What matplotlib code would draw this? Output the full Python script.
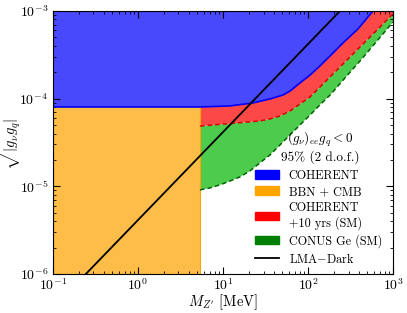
import numpy as np
import matplotlib
matplotlib.use("Agg")
import matplotlib.pyplot as plt
from matplotlib.patches import Patch
from matplotlib.lines import Line2D

plt.rcParams['font.family'] = 'serif'
plt.rcParams['font.serif'] = ['cmr10']
plt.rcParams['mathtext.fontset'] = 'cm'
plt.rcParams['axes.formatter.use_mathtext'] = True

# COHERENT bound (upper curve)
m_coh = [0.1, 5.36, 12.1, 22.5, 35.7, 50.8, 61.4, 80.5, 106, 138, 182, 258, 387, 582]
g_coh = [8.04e-5, 8.04e-5, 8.26e-5, 8.93e-5, 9.92e-5, 1.10e-4, 1.22e-4, 1.51e-4,
         1.86e-4, 2.36e-4, 3.07e-4, 4.32e-4, 6.23e-4, 1e-3]

# COHERENT +10 yrs (SM) sensitivity
m_fut = [5.36, 14.6, 27.2, 35.7, 46.8, 61.4, 80.5, 106, 150, 238, 377, 614, 1000]
g_fut = [4.88e-5, 5.28e-5, 5.57e-5, 5.87e-5, 6.35e-5, 7.24e-5, 8.70e-5, 1.05e-4,
         1.47e-4, 2.30e-4, 3.59e-4, 5.76e-4, 9.3e-4]

# CONUS Ge (SM) sensitivity
m_conus = [5.36, 7.03, 9.22, 12.1, 15.8, 20.8, 27.2, 35.7, 46.8, 61.4, 80.5, 106,
           138, 182, 272, 409, 648, 1000]
g_conus = [9.10e-6, 9.59e-6, 1.04e-5, 1.15e-5, 1.28e-5, 1.50e-5, 1.85e-5, 2.28e-5,
           2.96e-5, 3.86e-5, 5.01e-5, 6.52e-5, 8.48e-5, 1.10e-4, 1.72e-4, 2.69e-4,
           4.55e-4, 7.49e-4]

# BBN + CMB
m_bbn = 5.36

# LMA-Dark line
m_lma = [0.244, 238]
g_lma = [1e-6, 1e-3]

xmin, xmax = 0.1, 1000
ymin, ymax = 1e-6, 1e-3

fig = plt.figure(figsize=(4.07, 3.13), dpi=100)
ax = fig.add_axes([0.130, 0.1246, 0.8356, 0.8403])

c_blue, c_red, c_org, c_grn = '#4848fd', '#fd4848', '#fdbd48', '#4ccb4c'

# blue: above COHERENT curve
ax.fill(m_coh + [xmax, xmax, xmin], g_coh + [ymax, ymax * 2, ymax * 2],
        color=c_blue, lw=0)
# green: between CONUS and future COHERENT
ax.fill(m_conus + m_fut[::-1], g_conus + g_fut[::-1], color=c_grn, lw=0)
# red: between future COHERENT and current COHERENT
mc = [m for m in m_coh if m >= m_bbn]
gc = [g for m, g in zip(m_coh, g_coh) if m >= m_bbn]
ax.fill(m_fut + [xmax] + mc[::-1], g_fut + [ymax * 2] + gc[::-1],
        color=c_red, lw=0)
# orange: BBN + CMB
g_top = g_coh[0]
ax.fill([xmin, m_bbn, m_bbn, xmin], [ymin, ymin, g_top, g_top],
        facecolor=c_org, edgecolor='#ffa500', lw=0.8)

ax.plot(m_coh, g_coh, color='blue', lw=1.2)
ax.plot(m_fut, g_fut, color='#e00000', lw=1.1, ls='--', dashes=(3, 2))
ax.plot(m_conus, g_conus, color='#006400', lw=1.1, ls='--', dashes=(3, 2))
ax.plot(m_lma, g_lma, color='black', lw=1.3)

ax.set_xscale('log')
ax.set_yscale('log')
ax.set_xlim(xmin, xmax)
ax.set_ylim(ymin, ymax)
ax.tick_params(which='both', direction='in', top=True, right=True, labelsize=10)
ax.tick_params(axis='x', which='major', pad=2)
ax.tick_params(which='major', length=5)
ax.tick_params(which='minor', length=2.5)
ax.set_xlabel(r"$M_{Z'}$ [MeV]", fontsize=10.5)
ax.xaxis.set_label_coords(0.5, -0.07)
ax.set_ylabel(r"$\sqrt{|g_\nu g_q|}$", fontsize=10.5)
ax.yaxis.set_label_coords(-0.087, 0.5)

ax.text(0.785, 0.51, r"$(g_\nu)_{ee}g_q < 0$", transform=ax.transAxes,
        ha='center', va='center', fontsize=9.5)
ax.text(0.785, 0.445, "95% (2 d.o.f.)", transform=ax.transAxes,
        ha='center', va='center', fontsize=9.5)

handles = [Patch(color='blue'), Patch(color='#ffa500'), Patch(color='red'),
           Patch(color='green'), Line2D([], [], color='black', lw=1.3)]
labels = ['COHERENT', 'BBN + CMB', 'COHERENT\n+10 yrs (SM)', 'CONUS Ge (SM)',
          'LMA$-$Dark']
ax.legend(handles, labels, loc='lower right', bbox_to_anchor=(1.0, -0.01),
          frameon=False, fontsize=8.8, handlelength=2.0, handletextpad=0.8,
          labelspacing=0.33)

fig.savefig('out.png', dpi=100)
